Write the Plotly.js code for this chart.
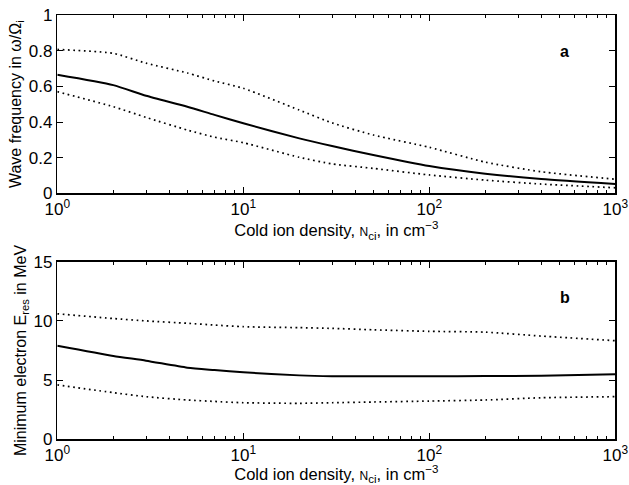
<!DOCTYPE html>
<html>
<head>
<meta charset="utf-8">
<script src="https://cdn.plot.ly/plotly-3.0.1.min.js"></script>
<style>html,body{margin:0;padding:0;background:#fff;}#chart{width:629px;height:485px;}</style>
</head>
<body>
<div id="chart"></div>
<script>
// Cold ion density (cm^-3)
const density = [1, 2, 3, 5, 7, 10, 20, 30, 50, 100, 200, 400, 1000];

// Panel a: wave frequency (omega / Omega_i)
const freqMid   = [0.665, 0.607, 0.547, 0.486, 0.440, 0.393, 0.308, 0.265, 0.215, 0.153, 0.110, 0.080, 0.052];
const freqUpper = [0.807, 0.785, 0.730, 0.675, 0.630, 0.589, 0.467, 0.395, 0.327, 0.258, 0.175, 0.121, 0.079];
const freqLower = [0.570, 0.486, 0.426, 0.355, 0.315, 0.284, 0.202, 0.165, 0.140, 0.103, 0.074, 0.052, 0.031];

// Panel b: minimum electron resonant energy (MeV)
const eresMid   = [7.90, 7.04, 6.64, 6.05, 5.85, 5.66, 5.40, 5.33, 5.32, 5.32, 5.35, 5.37, 5.50];
const eresUpper = [10.6, 10.2, 10.0, 9.80, 9.65, 9.51, 9.43, 9.37, 9.25, 9.12, 9.05, 8.72, 8.33];
const eresLower = [4.60, 3.94, 3.60, 3.32, 3.20, 3.09, 3.04, 3.09, 3.15, 3.23, 3.32, 3.51, 3.60];

const xTickVals = [1, 10, 100, 1000];
const xTickText = ['10<sup>0</sup>', '10<sup>1</sup>', '10<sup>2</sup>', '10<sup>3</sup>'];
const minorVals = [2,3,4,5,6,7,8,9,20,30,40,50,60,70,80,90,200,300,400,500,600,700,800,900];

const FONT = 'Liberation Sans, Arial, Helvetica, sans-serif';
const INK = '#000';
const solid = {color: INK, width: 2, shape: 'spline', smoothing: 0.6};
const dotted = {color: INK, width: 1.7, dash: '1.7px,3.6px', shape: 'spline', smoothing: 0.6};

const traces = [
  {x: density, y: freqUpper, xaxis: 'x', yaxis: 'y', mode: 'lines', line: dotted},
  {x: density, y: freqMid,   xaxis: 'x', yaxis: 'y', mode: 'lines', line: solid},
  {x: density, y: freqLower, xaxis: 'x', yaxis: 'y', mode: 'lines', line: dotted},
  {x: density, y: eresUpper, xaxis: 'x2', yaxis: 'y2', mode: 'lines', line: dotted},
  {x: density, y: eresMid,   xaxis: 'x2', yaxis: 'y2', mode: 'lines', line: solid},
  {x: density, y: eresLower, xaxis: 'x2', yaxis: 'y2', mode: 'lines', line: dotted}
];

const xTitle = 'Cold ion density, <span style="font-size:12px">N</span><sub>ci</sub>, in cm<sup>−3</sup>';

function xaxis(anchor) {
  return {
    type: 'log', range: [0, 3], domain: [0.0911, 0.9782], anchor: anchor,
    tickmode: 'array', tickvals: xTickVals, ticktext: xTickText,
    ticks: 'inside', ticklen: 6, tickwidth: 1, tickcolor: INK,
    minor: {tickmode: 'array', tickvals: minorVals, ticks: 'inside', ticklen: 3, tickcolor: INK, tickwidth: 1},
    showline: true, linecolor: INK, linewidth: 1.5, mirror: 'ticks',
    showgrid: false, zeroline: false,
    tickfont: {family: FONT, size: 17, color: INK},
    title: {text: xTitle, font: {family: FONT, size: 16.5, color: INK}, standoff: 1}
  };
}

const layout = {
  width: 629, height: 485,
  margin: {l: 0, r: 0, t: 0, b: 0},
  paper_bgcolor: '#fff', plot_bgcolor: '#fff',
  showlegend: false,
  xaxis: xaxis('y'),
  xaxis2: xaxis('y2'),
  yaxis: {
    range: [0, 1], domain: [0.6014, 0.969], anchor: 'x',
    tickvals: [0, 0.2, 0.4, 0.6, 0.8, 1], ticktext: ['0', '0.2', '0.4', '0.6', '0.8', '1'],
    ticks: 'inside', ticklen: 6, tickcolor: INK,
    showline: true, linecolor: INK, linewidth: 1.5, mirror: 'ticks',
    showgrid: false, zeroline: false,
    tickfont: {family: FONT, size: 17, color: INK},
    title: {text: 'Wave frequency in ω/Ω<sub>i</sub>', font: {family: FONT, size: 16, color: INK}, standoff: 3}
  },
  yaxis2: {
    range: [0, 15], domain: [0.0942, 0.4604], anchor: 'x2',
    tickvals: [0, 5, 10, 15],
    ticks: 'inside', ticklen: 6, tickcolor: INK,
    showline: true, linecolor: INK, linewidth: 1.5, mirror: 'ticks',
    showgrid: false, zeroline: false,
    tickfont: {family: FONT, size: 17, color: INK},
    title: {text: 'Minimum electron E<sub>res</sub> in MeV', font: {family: FONT, size: 16, color: INK}, standoff: 3}
  },
  annotations: [
    {text: 'a', xref: 'paper', yref: 'paper', x: 0.898, y: 0.893, xanchor: 'center', yanchor: 'middle', showarrow: false,
     font: {family: FONT, size: 16, color: INK, weight: 'bold'}},
    {text: 'b', xref: 'paper', yref: 'paper', x: 0.898, y: 0.3876, xanchor: 'center', yanchor: 'middle', showarrow: false,
     font: {family: FONT, size: 16, color: INK, weight: 'bold'}}
  ]
};

Plotly.newPlot('chart', traces, layout, {staticPlot: true, displayModeBar: false});
</script>
</body>
</html>
